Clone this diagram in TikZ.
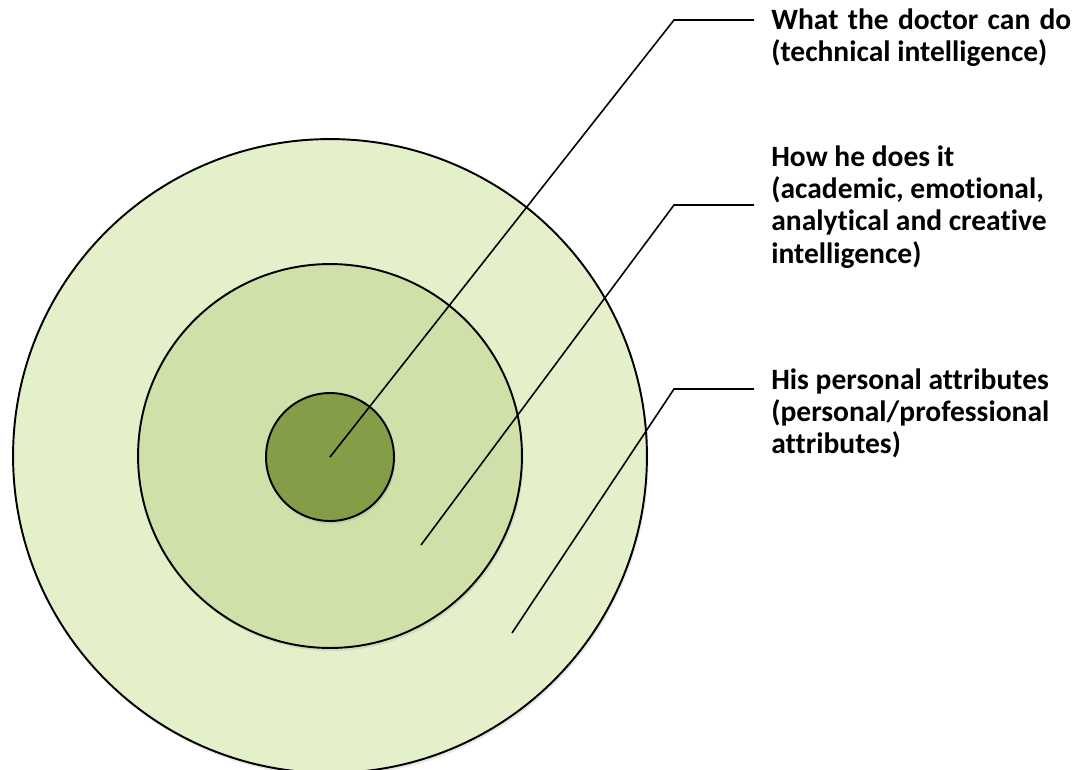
\documentclass[tikz,border=0pt]{standalone}
\usepackage{fontspec}
\setmainfont{Carlito}[Ligatures=NoCommon]
\usetikzlibrary{shadows}
\definecolor{ringout}{RGB}{227,240,201}
\definecolor{ringmid}{RGB}{207,225,169}
\definecolor{ringcore}{RGB}{131,158,70}

\begin{document}
\begin{tikzpicture}[x=0.02cm,y=-0.02cm,
  ring/.style={circle,draw=black,line width=1.1pt,inner sep=0pt,
    drop shadow={opacity=0.18,shadow xshift=0.3mm,shadow yshift=-0.6mm}},
  leader/.style={draw=black,line width=0.9pt},
  lbltext/.style={anchor=north west,inner sep=0pt,align=left,
    font=\bfseries\fontsize{16.8}{18.4}\selectfont}]
\useasboundingbox (0,0) rectangle (1072,769);
% the three rings
\node[ring,fill=ringout,minimum size=12.68cm] (outer) at (330,456) {};
\node[ring,fill=ringmid,minimum size=7.68cm] (middle) at (330,456) {};
\node[ring,fill=ringcore,minimum size=2.56cm] (core) at (330,457) {};
% leader points
\coordinate (s2) at (421,545);
\coordinate (s3) at (512,633);
\coordinate (k1) at (674,20);  \coordinate (e1) at (754,20);
\coordinate (k2) at (674,205); \coordinate (e2) at (754,205);
\coordinate (k3) at (674,389); \coordinate (e3) at (754,389);
\draw[leader] (core.center) -- (k1) -- (e1);
\draw[leader] (s2) -- (k2) -- (e2);
\draw[leader] (s3) -- (k3) -- (e3);
% texts
\node[lbltext] (doing) at (771,8) {\makebox[6cm][s]{What the doctor can do}\\(technical intelligence)};
\node[lbltext] (manner) at (771,145) {How he does it\\(academic, emotional,\\analytical and creative\\intelligence)};
\node[lbltext] (traits) at (771,368) {His personal attributes\\(personal/professional\\attributes)};
\end{tikzpicture}
\end{document}
